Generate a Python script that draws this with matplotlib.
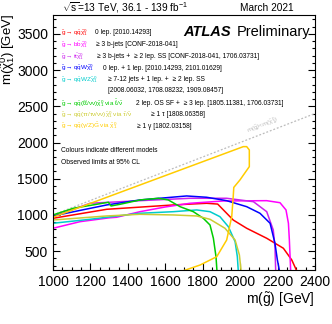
import numpy as np
import matplotlib
matplotlib.use("Agg")
import matplotlib.pyplot as plt
from matplotlib.ticker import MultipleLocator

plt.rcParams['font.family'] = ['Liberation Sans', 'DejaVu Sans']
plt.rcParams['mathtext.fontset'] = 'custom'
plt.rcParams['mathtext.rm'] = 'Liberation Sans'
plt.rcParams['mathtext.it'] = 'Liberation Sans'
plt.rcParams['mathtext.bf'] = 'Liberation Sans:bold'

# observed limit contours, m(gluino) vs m(neutralino) [GeV]
qq_mg = [1000, 1287, 1643, 1821, 1880, 1928, 1963, 2035, 2142, 2231, 2276, 2302, 2320]
qq_mx = [954, 1078, 1138, 1161, 1150, 1023, 930, 816, 678, 540, 378, 230, 0]

bb_mg = [1000, 1144, 1300, 1340, 1465, 1600, 1732, 1910, 2142, 2213, 2245, 2258, 2263, 2270, 2272]
bb_mx = [816, 907, 960, 968, 1045, 1110, 1161, 1193, 1197, 1169, 1069, 885, 654, 230, 0]

tt_mg = [1000, 1198, 1465, 1732, 1928, 2071, 2142, 2177, 2186, 2190, 2192]
tt_mx = [976, 1161, 1197, 1230, 1230, 1183, 1045, 792, 562, 230, 0]

qqW_mg = [1000, 1287, 1465, 1714, 1821, 1928, 2035, 2106, 2160, 2186, 2199, 2210, 2214]
qqW_mx = [986, 1138, 1207, 1262, 1244, 1197, 1114, 1023, 885, 609, 378, 230, 0]

qqWZ_mg = [1000, 1198, 1465, 1643, 1768, 1839, 1892, 1937, 1973, 1985, 1990, 1992]
qqWZ_mx = [885, 940, 1023, 1045, 1069, 1045, 976, 838, 631, 424, 230, 0]

sl_mg = [1000, 1109, 1296, 1310, 1358, 1465, 1563, 1616, 1679, 1750, 1803, 1839, 1857, 1871, 1876, 1878]
sl_mx = [1000, 1092, 1175, 1124, 1147, 1207, 1230, 1207, 1114, 1045, 954, 861, 678, 424, 230, 0]

stau_mg = [1000, 1287, 1465, 1643, 1768, 1839, 1919, 1973, 1996, 2005, 2008]
stau_mx = [930, 986, 1009, 1000, 986, 940, 816, 654, 447, 230, 0]

ggm_mg = [1000, 2017, 2035, 2049, 2049, 1999, 1966, 1963, 1955, 1928, 1875, 1786, 1697, 1600]
ggm_mx = [968, 1943, 1943, 1897, 1667, 1483, 1380, 1252, 976, 654, 424, 309, 230, 130]

diag = [1000, 2400]

curves = [
    (qq_mg, qq_mx, '#ff0000'),
    (bb_mg, bb_mx, '#ff00ff'),
    (tt_mg, tt_mx, '#cc22ee'),
    (qqW_mg, qqW_mx, '#0000ff'),
    (qqWZ_mg, qqWZ_mx, '#00cccc'),
    (sl_mg, sl_mx, '#00cc00'),
    (stau_mg, stau_mx, '#cccc33'),
    (ggm_mg, ggm_mx, '#ffcc00'),
]

procs = [
    r"$\tilde{g}\rightarrow q\bar{q}\tilde{\chi}^0_1$",
    r"$\tilde{g}\rightarrow b\bar{b}\tilde{\chi}^0_1$",
    r"$\tilde{g}\rightarrow t\bar{t}\tilde{\chi}^0_1$",
    r"$\tilde{g}\rightarrow q\bar{q}W\tilde{\chi}^0_1$",
    r"$\tilde{g}\rightarrow q\bar{q}WZ\tilde{\chi}^0_1$",
    r"$\tilde{g}\rightarrow q\bar{q}(\ell\ell/\nu\nu)\tilde{\chi}^0_1$ via $\tilde{\ell}/\tilde{\nu}$",
    r"$\tilde{g}\rightarrow q\bar{q}(\tau\tau/\tau\nu/\nu\nu)\tilde{\chi}^0_1$ via $\tilde{\tau}/\tilde{\nu}$",
    r"$\tilde{g}\rightarrow q\bar{q}(\gamma/Z)\tilde{G}$ via $\tilde{\chi}^0_1$",
]
descs = [
    "0 lep. [2010.14293]",
    "≥ 3 b-jets [CONF-2018-041]",
    "≥ 3 b-jets +  ≥ 2 lep. SS [CONF-2018-041, 1706.03731]",
    "0 lep. + 1 lep. [2010.14293, 2101.01629]",
    "≥ 7-12 jets + 1 lep. +  ≥ 2 lep. SS",
    "2 lep. OS SF +  ≥ 3 lep. [1805.11381, 1706.03731]",
    "≥ 1 τ [1808.06358]",
    "≥ 1 γ [1802.03158]",
]
# legend layout in pixels
leg_y = [33, 44.5, 56.5, 68, 79.5, 103.5, 115, 126]
desc_x = [95, 96, 97, 103, 108, 136, 151, 137]

W, H = 332, 324
fig = plt.figure(figsize=(W / 100, H / 100), dpi=100)
ax = fig.add_axes([53 / W, 54 / H, 262 / W, 255 / H])

def px2ax(x, y):
    return (x - 53) / 262, (270 - y) / 255

ax.plot(diag, diag, color='#bbbbbb', lw=0.9, ls=(0, (1.5, 1.5)))
ax.text(2120, 2240, r"m($\tilde{g}$)<m($\tilde{\chi}^0_1$)", color='#bbbbbb', fontsize=4.5,
        rotation=21, ha='center', va='center', style='italic')

for mg, mx, c in curves:
    ax.plot(mg, mx, color=c, lw=1.1, solid_joinstyle='round')

ax.set_xlim(1000, 2400)
ax.set_ylim(240, 3760)
ax.xaxis.set_major_locator(MultipleLocator(200))
ax.xaxis.set_minor_locator(MultipleLocator(50))
ax.yaxis.set_major_locator(MultipleLocator(500))
ax.yaxis.set_minor_locator(MultipleLocator(100))
ax.tick_params(which='both', direction='in', right=True, top=False, labelsize=10, width=0.8)
ax.tick_params(which='major', length=5)
ax.tick_params(which='minor', length=2.5)
for s in ax.spines.values():
    s.set_linewidth(0.8)

ax.set_xlabel(r"m($\tilde{g}$) [GeV]", fontsize=10, loc='right', labelpad=1)
fig.text(8 / W, 1 - 14 / H, r"m($\tilde{\chi}^0_1$) [GeV]", fontsize=9.5, rotation=90,
         ha='center', va='top')

renderer = fig.canvas.get_renderer()
for i, (p, d) in enumerate(zip(procs, descs)):
    c = curves[i][2]
    x0, y0 = px2ax(61, leg_y[i])
    t = ax.text(x0, y0, p, color=c, fontsize=4.6, transform=ax.transAxes, va='center', ha='left')
    end_px = t.get_window_extent(renderer).x1
    x1 = max(desc_x[i], end_px + 3)
    x1, _ = px2ax(x1, leg_y[i])
    ax.text(x1, y0, d, color='black', fontsize=4.8, transform=ax.transAxes, va='center', ha='left')

x1, y1 = px2ax(108, 91)
ax.text(x1, y1, "[2008.06032, 1708.08232, 1909.08457]", fontsize=4.8, transform=ax.transAxes, va='center')
x1, y1 = px2ax(61, 151)
ax.text(x1, y1, "Colours indicate different models", fontsize=4.8, transform=ax.transAxes, va='center')
x1, y1 = px2ax(61, 163)
ax.text(x1, y1, "Observed limits at 95% CL", fontsize=4.8, transform=ax.transAxes, va='center')

x1, y1 = px2ax(183, 32)
ax.text(x1, y1, "ATLAS", fontsize=10.5, weight='bold', style='italic', transform=ax.transAxes, va='center')
x1, y1 = px2ax(237, 32)
ax.text(x1, y1, "Preliminary", fontsize=10.5, transform=ax.transAxes, va='center')

fig.text(62 / W, 1 - 8 / H, r"$\sqrt{s}$=13 TeV, 36.1 - 139 fb$^{-1}$", fontsize=7.3, va='center')
fig.text(294 / W, 1 - 8 / H, "March 2021", fontsize=7.3, va='center', ha='right')

fig.savefig("out.png", dpi=100)
